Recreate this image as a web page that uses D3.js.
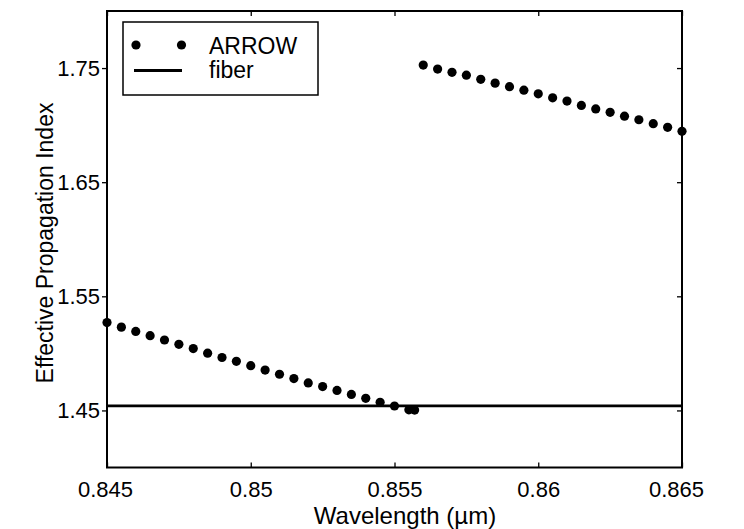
<!DOCTYPE html>
<html>
<head>
<meta charset="utf-8">
<script src="https://cdn.jsdelivr.net/npm/d3@7"></script>
<style>
  html, body { margin: 0; padding: 0; background: #fff; }
  text { font-family: "Liberation Sans", Arial, Helvetica, sans-serif; fill: #000; }
</style>
</head>
<body>
<svg id="chart" width="744" height="529"></svg>
<script>
// ---- data ----
const arrowWavelength1 = [0.845, 0.8455, 0.846, 0.8465, 0.847, 0.8475, 0.848, 0.8485, 0.849, 0.8495,
  0.850, 0.8505, 0.851, 0.8515, 0.852, 0.8525, 0.853, 0.8535, 0.854, 0.8545, 0.855, 0.8555, 0.8557];
const arrowIndex1 = [1.5270, 1.5230, 1.5192, 1.5155, 1.5117, 1.5079, 1.5042, 1.5002, 1.4964, 1.4930,
  1.4892, 1.4854, 1.4817, 1.4779, 1.4741, 1.4709, 1.4675, 1.4640, 1.4606, 1.4571, 1.4539, 1.4505, 1.4503];
const arrowWavelength2 = [0.856, 0.8565, 0.857, 0.8575, 0.858, 0.8585, 0.859, 0.8595, 0.860, 0.8605,
  0.861, 0.8615, 0.862, 0.8625, 0.863, 0.8635, 0.864, 0.8645, 0.865];
const arrowIndex2 = [1.7526, 1.7491, 1.7463, 1.7438, 1.7401, 1.7368, 1.7337, 1.7306, 1.7274, 1.7239,
  1.7211, 1.7173, 1.7142, 1.7112, 1.7078, 1.7047, 1.7013, 1.6981, 1.6946];
const fiberWavelength = [0.845, 0.865];
const fiberIndex = [1.454, 1.454];
const xTicks = [0.845, 0.85, 0.855, 0.86, 0.865];
const xTickLabels = ["0.845", "0.85", "0.855", "0.86", "0.865"];
const yTicks = [1.45, 1.55, 1.65, 1.75];
const yTickLabels = ["1.45", "1.55", "1.65", "1.75"];
const legendLabels = ["ARROW", "fiber"];
const xLabel = "Wavelength (\u00b5m)";
const yLabel = "Effective Propagation Index";

// ---- layout ----
const svg = d3.select("#chart");
const L = 107, R = 682, T = 11, B = 467.5;
const x = d3.scaleLinear().domain([0.845, 0.865]).range([L, R]);
const y = d3.scaleLinear().domain([1.4, 1.8]).range([B, T]);
const fs = 22;

// axes
const tickLen = 5;
const gx = svg.append("g").attr("transform", `translate(0,${B})`)
  .call(d3.axisBottom(x).tickValues(xTicks).tickFormat((d, i) => xTickLabels[i])
    .tickSizeInner(-tickLen).tickSizeOuter(0).tickPadding(14));
const gxTop = svg.append("g").attr("transform", `translate(0,${T})`)
  .call(d3.axisTop(x).tickValues(xTicks).tickFormat("").tickSizeInner(-tickLen).tickSizeOuter(0));
const gy = svg.append("g").attr("transform", `translate(${L},0)`)
  .call(d3.axisLeft(y).tickValues(yTicks).tickFormat((d, i) => yTickLabels[i])
    .tickSizeInner(tickLen).tickSizeOuter(0).tickPadding(2));
const gyR = svg.append("g").attr("transform", `translate(${R},0)`)
  .call(d3.axisRight(y).tickValues(yTicks).tickFormat("").tickSizeInner(-tickLen).tickSizeOuter(0));
[gx, gxTop, gy, gyR].forEach(g => {
  g.select(".domain").remove();
  g.selectAll("line").attr("stroke", "#000").attr("stroke-width", 1.3);
  g.selectAll("text").attr("font-size", fs).attr("fill", "#000")
    .style("font-family", '"Liberation Sans", Arial, sans-serif');
});
gx.selectAll(".tick text").attr("dx", (d, i) => i === 0 ? -2 : (i === xTicks.length - 1 ? -6 : 0));

// box
svg.append("rect").attr("x", L).attr("y", T).attr("width", R - L).attr("height", B - T)
  .attr("fill", "none").attr("stroke", "#000").attr("stroke-width", 2);

// fiber line
svg.append("path")
  .datum(fiberWavelength.map((w, i) => [w, fiberIndex[i]]))
  .attr("d", d3.line().x(d => x(d[0])).y(d => y(d[1])))
  .attr("stroke", "#000").attr("stroke-width", 2.8).attr("fill", "none");

// ARROW dots
const pts = arrowWavelength1.map((w, i) => [w, arrowIndex1[i]])
  .concat(arrowWavelength2.map((w, i) => [w, arrowIndex2[i]]));
svg.append("g").selectAll("circle").data(pts).join("circle")
  .attr("cx", d => x(d[0])).attr("cy", d => y(d[1])).attr("r", 4.6).attr("fill", "#000");

// labels
svg.append("text").attr("x", 405).attr("y", 524).attr("text-anchor", "middle")
  .attr("font-size", 24).text(xLabel);
svg.append("text").attr("transform", `translate(53,${243}) rotate(-90)`)
  .attr("text-anchor", "middle").attr("font-size", 23).text(yLabel);

// legend
const lg = svg.append("g");
lg.append("rect").attr("x", 123).attr("y", 22).attr("width", 195).attr("height", 73)
  .attr("fill", "#fff").attr("stroke", "#000").attr("stroke-width", 1.5);
[136, 181.5].forEach(cx => lg.append("circle").attr("cx", cx).attr("cy", 45).attr("r", 4.6).attr("fill", "#000"));
lg.append("line").attr("x1", 134).attr("x2", 182).attr("y1", 70.5).attr("y2", 70.5)
  .attr("stroke", "#000").attr("stroke-width", 2.8);
lg.append("text").attr("x", 209).attr("y", 54).attr("font-size", 23).text(legendLabels[0]);
lg.append("text").attr("x", 209).attr("y", 78).attr("font-size", 23).text(legendLabels[1]);
</script>
</body>
</html>
